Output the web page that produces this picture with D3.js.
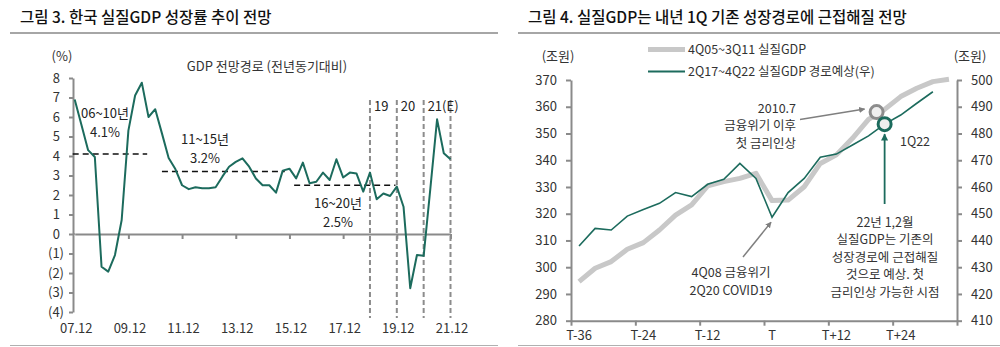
<!DOCTYPE html>
<html>
<head>
<meta charset="utf-8">
<script src="https://cdn.jsdelivr.net/npm/d3@7"></script>
<style>
  body { margin: 0; background: #fff; }
  svg text { font-family: "Noto Sans CJK KR", "Noto Sans", sans-serif; fill: #222; }
</style>
</head>
<body>
<div id="chart"></div>
<script>
// ---- left chart data: YoY real GDP growth, quarterly from 4Q07 to 4Q21 ----
const growthValues = [
  6.9, 5.6, 4.3, 3.95, -1.68, -1.93, -1.08, 0.72, 5.3, 7.1,
  7.76, 6.0, 6.4, 5.16, 3.9, 3.33, 2.5, 2.3, 2.4, 2.35,
  2.35, 2.4, 2.94, 3.45, 3.7, 3.88, 3.45, 2.85, 2.5, 2.5,
  2.12, 3.25, 3.35, 2.85, 3.66, 2.6, 2.68, 3.15, 2.77, 3.83,
  2.9, 3.15, 3.1, 2.17, 3.15, 1.78, 2.08, 1.95, 2.43, 1.4,
  -2.78, -1.08, -1.12, 2.34, 5.88, 4.14, 3.83
];
const growthTickLabels = ["07.12", "09.12", "11.12", "13.12", "15.12", "17.12", "19.12", "21.12"];
const growthYTicks = [8, 7, 6, 5, 4, 3, 2, 1, 0, -1, -2, -3, -4];
const periodLabels = ["06~10년", "11~15년", "16~20년"];
const periodAverages = [4.1, 3.2, 2.5];
const periodStart = [-0.3, 13, 32.7];   // quarter index
const periodEnd = [10.8, 31.3, 47.8];
const dividerQuarters = [44, 48, 52, 56];
const dividerLabels = ["19", "20", "21(E)"];

// ---- right chart data: real GDP level, quarterly, aligned at T ----
const pathCategories = ["T-36", "T-24", "T-12", "T", "T+12", "T+24"];
const gfcGdp = [  // 4Q05~3Q11, left axis
  294.6, 299.6, 302.1, 306.7, 309.2, 313.9, 319.5, 323.3, 330.4, 332,
  333.2, 335.1, 324.9, 325.1, 330.1, 338.8, 342, 348.2, 355.3, 359,
  363.8, 366.9, 369.4, 370.3
];
const covidGdp = [  // 2Q17~4Q22, right axis
  437.9, 444.5, 443.9, 449.1, 451.6, 453.9, 457.9, 456.4, 461, 462.9,
  468.8, 463.2, 448.7, 457.9, 463.2, 471.1, 472.3, 475.7, 479.1, 483.5,
  486.9, 491.3, 495.6
];
const leftTicks = [280, 290, 300, 310, 320, 330, 340, 350, 360, 370];
const rightTicks = [410, 420, 430, 440, 450, 460, 470, 480, 490, 500];
const hikePoint = { idx: 18.5, value: 358 };      // 2010.7, left axis
const forecastPoint = { idx: 19, value: 483.5 };   // 1Q22, right axis

const green = "#1c6b5d";
const axisGray = "#8a8a8a";

const svg = d3.select("#chart").append("svg")
    .attr("width", 1000)
    .attr("height", 347);

const defs = svg.append("defs");
function arrowMarker(id, color) {
  defs.append("marker")
      .attr("id", id)
      .attr("viewBox", "0 0 10 10")
      .attr("refX", 9).attr("refY", 5)
      .attr("markerWidth", 4).attr("markerHeight", 4)
      .attr("orient", "auto")
    .append("path")
      .attr("d", "M0,0 L10,5 L0,10 Z")
      .attr("fill", color);
}
arrowMarker("arrGray", "#7f7f7f");
arrowMarker("arrGreen", green);

// titles and frame lines
svg.append("text").attr("x", 20).attr("y", 23)
    .style("font-size", "15.5px").style("font-weight", "500").style("fill", "#111")
    .text("그림 3. 한국 실질GDP 성장률 추이 전망");
svg.append("text").attr("x", 528).attr("y", 23)
    .style("font-size", "15.5px").style("font-weight", "500").style("fill", "#111")
    .text("그림 4. 실질GDP는 내년 1Q 기존 성장경로에 근접해질 전망");
[[10, 498], [518, 1000]].forEach(([a, b]) => {
  svg.append("line").attr("x1", a).attr("x2", b).attr("y1", 33).attr("y2", 33)
      .attr("stroke", "#a6a6a6").attr("stroke-width", 2);
  svg.append("line").attr("x1", a).attr("x2", b).attr("y1", 345.5).attr("y2", 345.5)
      .attr("stroke", "#b0b0b0").attr("stroke-width", 1);
});

function styleAxis(g) {
  g.selectAll("path, line").attr("stroke", axisGray).attr("stroke-width", 2);
  g.selectAll("text").style("font-size", "13px").style("fill", "#333");
}

/*
    Left chart: growth path
*/
const x1 = d3.scaleLinear().domain([0, 56]).range([74.7, 450.5]);
const y1 = d3.scaleLinear().domain([-4, 8]).range([312, 78]);
const left = svg.append("g");

left.append("g")
    .attr("transform", "translate(73,0)")
    .call(d3.axisLeft(y1).tickValues(growthYTicks).tickSize(4).tickSizeOuter(0).tickPadding(9)
        .tickFormat(d => d < 0 ? "(" + (-d) + ")" : d))
    .call(styleAxis)
    .call(g => g.selectAll(".tick text").attr("dx", d => d < 0 ? 4 : 0));

left.append("g")
    .attr("transform", `translate(0,${y1(0)})`)
    .call(d3.axisBottom(x1).tickValues(d3.range(8, 57, 8)).tickSize(5).tickSizeOuter(0).tickFormat(""))
    .call(styleAxis);
left.append("line").attr("x1", 73).attr("x2", x1(0)).attr("y1", y1(0)).attr("y2", y1(0))
    .attr("stroke", axisGray).attr("stroke-width", 2);

left.selectAll(".xlab").data(growthTickLabels).enter().append("text")
    .attr("x", (d, i) => x1(i * 8) + 1.5)
    .attr("y", 333)
    .attr("text-anchor", "middle")
    .style("font-size", "13px").style("fill", "#333")
    .text(d => d);

left.append("text").attr("x", 62).attr("y", 61).attr("text-anchor", "middle")
    .style("font-size", "13px").style("fill", "#333").text("(%)");
left.append("text").attr("x", 267).attr("y", 71).attr("text-anchor", "middle")
    .style("font-size", "13px").style("fill", "#333").text("GDP 전망경로 (전년동기대비)");

// period averages
left.selectAll(".avg").data(periodAverages).enter().append("line")
    .attr("x1", (d, i) => x1(periodStart[i]))
    .attr("x2", (d, i) => x1(periodEnd[i]))
    .attr("y1", d => y1(d)).attr("y2", d => y1(d))
    .attr("stroke", "#111").attr("stroke-width", 1.5).attr("stroke-dasharray", "6,4");

const periodTextX = [105, 205, 338];
const periodTextY = [118, 144, 208];
periodLabels.forEach((lab, i) => {
  left.append("text").attr("x", periodTextX[i]).attr("y", periodTextY[i])
      .attr("text-anchor", "middle").style("font-size", "13px").text(lab);
  left.append("text").attr("x", periodTextX[i]).attr("y", periodTextY[i] + 19)
      .attr("text-anchor", "middle").style("font-size", "13px").text(periodAverages[i].toFixed(1) + "%");
});

// year dividers
left.selectAll(".div").data(dividerQuarters).enter().append("line")
    .attr("x1", d => x1(d)).attr("x2", d => x1(d))
    .attr("y1", 100).attr("y2", 318)
    .attr("stroke", "#8c8c8c").attr("stroke-width", 2).attr("stroke-dasharray", "5,3");
left.selectAll(".divlab").data(dividerLabels).enter().append("text")
    .attr("x", (d, i) => x1(dividerQuarters[i]) + 4)
    .attr("y", 111)
    .style("font-size", "13px")
    .text(d => d);

left.append("path")
    .datum(growthValues)
    .attr("fill", "none")
    .attr("stroke", green)
    .attr("stroke-width", 2)
    .attr("stroke-linejoin", "round")
    .attr("d", d3.line().x((d, i) => x1(i)).y(d => y1(d)));

/*
    Right chart: level paths around T
*/
const x2 = d3.scaleLinear().domain([0, 24]).range([571, 957]);
const yL = d3.scaleLinear().domain([280, 370]).range([320.7, 80]);
const yR = d3.scaleLinear().domain([410, 500]).range([320.7, 80]);
const right = svg.append("g");

right.append("g").attr("transform", "translate(571,0)")
    .call(d3.axisLeft(yL).tickValues(leftTicks).tickSize(5).tickSizeOuter(0).tickPadding(9))
    .call(styleAxis);
right.append("g").attr("transform", "translate(957,0)")
    .call(d3.axisRight(yR).tickValues(rightTicks).tickSize(5).tickSizeOuter(0).tickPadding(9))
    .call(styleAxis);
right.append("g").attr("transform", "translate(0,320.7)")
    .call(d3.axisBottom(x2).tickValues(d3.range(0, 25, 4)).tickSize(5).tickSizeOuter(0).tickFormat(""))
    .call(styleAxis);

right.selectAll(".xlab").data(pathCategories).enter().append("text")
    .attr("x", (d, i) => x2(i * 4 + 0.5))
    .attr("y", 340)
    .attr("text-anchor", "middle")
    .style("font-size", "13px").style("fill", "#333")
    .text(d => d);

right.append("text").attr("x", 558).attr("y", 61).attr("text-anchor", "middle")
    .style("font-size", "13px").style("fill", "#333").text("(조원)");
right.append("text").attr("x", 970).attr("y", 61).attr("text-anchor", "middle")
    .style("font-size", "13px").style("fill", "#333").text("(조원)");

right.append("path")
    .datum(gfcGdp)
    .attr("fill", "none")
    .attr("stroke", "#c8c8c8")
    .attr("stroke-width", 5)
    .attr("stroke-linejoin", "round")
    .attr("d", d3.line().x((d, i) => x2(i + 0.5)).y(d => yL(d)));

right.append("path")
    .datum(covidGdp)
    .attr("fill", "none")
    .attr("stroke", green)
    .attr("stroke-width", 1.6)
    .attr("d", d3.line().x((d, i) => x2(i + 0.5)).y(d => yR(d)));

// legend
const legendItems = [
  { label: "4Q05~3Q11 실질GDP", color: "#c8c8c8", width: 5 },
  { label: "2Q17~4Q22 실질GDP 경로예상(우)", color: green, width: 2.2 }
];
legendItems.forEach((d, i) => {
  const ly = 49.5 + i * 22;
  right.append("line").attr("x1", 648).attr("x2", 685).attr("y1", ly).attr("y2", ly)
      .attr("stroke", d.color).attr("stroke-width", d.width);
  right.append("text").attr("x", 688).attr("y", ly + 4.5)
      .style("font-size", "12.5px").style("fill", "#333").text(d.label);
});

// annotations
const hx = x2(hikePoint.idx + 0.5), hy = yL(hikePoint.value);
const fx = x2(forecastPoint.idx + 0.5), fy = yR(forecastPoint.value);

right.append("line").attr("x1", 800).attr("y1", 119.5).attr("x2", hx - 12).attr("y2", hy - 3)
    .attr("stroke", "#7f7f7f").attr("stroke-width", 1.5).attr("marker-end", "url(#arrGray)");
right.append("line").attr("x1", 743).attr("y1", 257).attr("x2", x2(12.5) - 1).attr("y2", yR(covidGdp[12]) + 5)
    .attr("stroke", "#7f7f7f").attr("stroke-width", 1.5).attr("marker-end", "url(#arrGray)");
right.append("line").attr("x1", fx).attr("y1", 204).attr("x2", fx).attr("y2", fy + 10)
    .attr("stroke", green).attr("stroke-width", 1.8).attr("marker-end", "url(#arrGreen)");

right.append("circle").attr("cx", hx).attr("cy", hy).attr("r", 6.5)
    .attr("fill", "#efefef").attr("stroke", "#8c8c8c").attr("stroke-width", 3);
right.append("circle").attr("cx", fx).attr("cy", fy).attr("r", 6.5)
    .attr("fill", "#efefef").attr("stroke", green).attr("stroke-width", 3);

function textLines(lines, x, y, anchor, step) {
  lines.forEach((t, i) => {
    right.append("text").attr("x", x).attr("y", y + i * step)
        .attr("text-anchor", anchor)
        .style("font-size", "12.5px").style("fill", "#333").text(t);
  });
}
textLines(["2010.7", "금융위기 이후", "첫 금리인상"], 796, 113, "end", 17.3);
textLines(["1Q22"], 915, 145.5, "middle", 0);
textLines(["22년 1,2월", "실질GDP는 기존의", "성장경로에 근접해질", "것으로 예상. 첫", "금리인상 가능한 시점"], 885, 227, "middle", 17.4);
textLines(["4Q08 금융위기", "2Q20 COVID19"], 731, 277, "middle", 18);
</script>
</body>
</html>
